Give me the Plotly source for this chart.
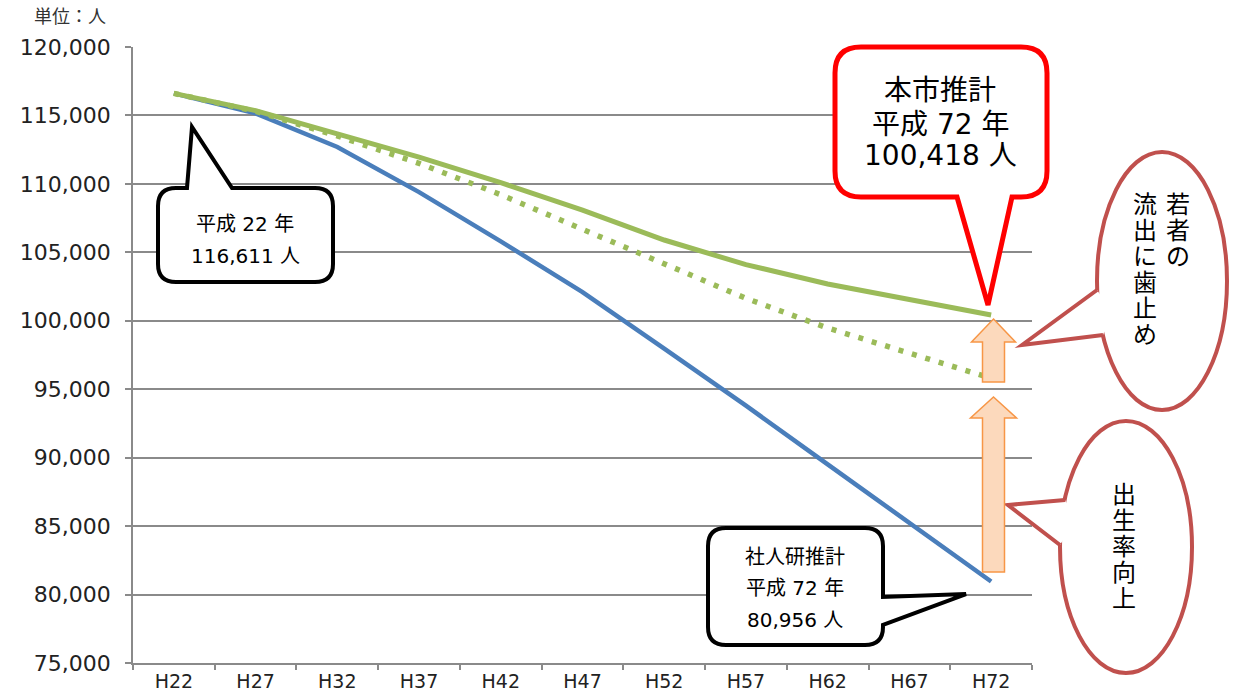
import plotly.graph_objects as go

# ---------------- data ----------------
categories = ["H22", "H27", "H32", "H37", "H42", "H47", "H52", "H57", "H62", "H67", "H72"]
ipss_projection = [116611, 115150, 112700, 109400, 105800, 102100, 97960, 93800, 89510, 85230, 80956]
city_projection = [116611, 115350, 113650, 111960, 110090, 108090, 105900, 104100, 102690, 101520, 100418]
birthrate_only = [116611, 115300, 113500, 111500, 109210, 106700, 104130, 101640, 99470, 97590, 95800]
y_ticks = [75000, 80000, 85000, 90000, 95000, 100000, 105000, 110000, 115000, 120000]

# ---------------- layout helpers (pixel -> paper) ----------------
W_FIG, H_FIG = 1237, 695
L0, T0, R0, B0 = 133, 47, 1032, 663


def P(x, y):
    return f"{(x - L0) / (R0 - L0):.5f},{(B0 - y) / (B0 - T0):.5f}"


def px(x):
    return (x - L0) / (R0 - L0)


def py(y):
    return (B0 - y) / (B0 - T0)


def callout_path(x0, y0, x1, y1, r, side, tail):
    t = "".join(f" L{P(*p)}" for p in tail)
    s = f"M{P(x0 + r, y0)}"
    if side == "top":
        s += t
    s += f" L{P(x1 - r, y0)} Q{P(x1, y0)} {P(x1, y0 + r)}"
    if side == "right":
        s += t
    s += f" L{P(x1, y1 - r)} Q{P(x1, y1)} {P(x1 - r, y1)}"
    if side == "bottom":
        s += t
    s += f" L{P(x0 + r, y1)} Q{P(x0, y1)} {P(x0, y1 - r)}"
    if side == "left":
        s += t
    s += f" L{P(x0, y0 + r)} Q{P(x0, y0)} {P(x0 + r, y0)} Z"
    return s


def ellipse_path(cx, cy, rx, ry):
    k = 0.5523
    return (f"M{P(cx, cy - ry)} "
            f"C{P(cx + k * rx, cy - ry)} {P(cx + rx, cy - k * ry)} {P(cx + rx, cy)} "
            f"C{P(cx + rx, cy + k * ry)} {P(cx + k * rx, cy + ry)} {P(cx, cy + ry)} "
            f"C{P(cx - k * rx, cy + ry)} {P(cx - rx, cy + k * ry)} {P(cx - rx, cy)} "
            f"C{P(cx - rx, cy - k * ry)} {P(cx - k * rx, cy - ry)} {P(cx, cy - ry)} Z")


def poly_path(pts, close=True):
    s = "M" + " L".join(P(*p) for p in pts)
    return s + (" Z" if close else "")


def arrow_path(cx, tip, head_base, bottom, head_half, shaft_half):
    pts = [(cx, tip), (cx + head_half, head_base), (cx + shaft_half, head_base),
           (cx + shaft_half, bottom), (cx - shaft_half, bottom), (cx - shaft_half, head_base),
           (cx - head_half, head_base)]
    return poly_path(pts)


# ---------------- figure ----------------
fig = go.Figure()
fig.add_trace(go.Scatter(x=categories, y=ipss_projection, mode="lines",
                         line=dict(color="#4a7ebb", width=4.5), name="社人研推計"))
fig.add_trace(go.Scatter(x=categories, y=birthrate_only, mode="lines",
                         line=dict(color="#9bbb59", width=5.5, dash="5px,9px"), name="出生率向上"))
fig.add_trace(go.Scatter(x=categories, y=city_projection, mode="lines",
                         line=dict(color="#9bbb59", width=5), name="本市推計"))

shapes = []
BLACK = dict(color="black", width=4)
RED = dict(color="#ff0000", width=5)
ROSE = dict(color="#c0504d", width=4)

# callout: 平成22年
shapes.append(dict(type="path", xref="paper", yref="paper", layer="above",
                   path=callout_path(158, 188, 333, 282, 18, "top",
                                     [(187, 188), (192, 127), (232, 188)]),
                   fillcolor="white", line=BLACK))
# callout: 社人研推計
shapes.append(dict(type="path", xref="paper", yref="paper", layer="above",
                   path=callout_path(708, 528, 883, 645, 18, "right",
                                     [(883, 597), (966, 594), (883, 625)]),
                   fillcolor="white", line=BLACK))
# callout: 本市推計
shapes.append(dict(type="path", xref="paper", yref="paper", layer="above",
                   path=callout_path(835, 47, 1047, 197, 26, "bottom",
                                     [(1012, 197), (988, 305), (957, 197)]),
                   fillcolor="white", line=RED))

# oval: 若者の流出に歯止め
shapes.append(dict(type="path", xref="paper", yref="paper", layer="above",
                   path=ellipse_path(1162, 281, 65, 129), fillcolor="white", line=ROSE))
shapes.append(dict(type="path", xref="paper", yref="paper", layer="above",
                   path=poly_path([(1022, 345), (1097, 290), (1112, 312), (1103, 335)]),
                   fillcolor="white", line=dict(width=0)))
shapes.append(dict(type="path", xref="paper", yref="paper", layer="above",
                   path=poly_path([(1097, 290), (1022, 345), (1103, 335)], close=False),
                   line=ROSE))
# oval: 出生率向上
shapes.append(dict(type="path", xref="paper", yref="paper", layer="above",
                   path=ellipse_path(1126, 547, 66, 126), fillcolor="white", line=ROSE))
shapes.append(dict(type="path", xref="paper", yref="paper", layer="above",
                   path=poly_path([(1008, 505), (1065, 500), (1074, 522), (1060, 545)]),
                   fillcolor="white", line=dict(width=0)))
shapes.append(dict(type="path", xref="paper", yref="paper", layer="above",
                   path=poly_path([(1065, 500), (1008, 505), (1060, 545)], close=False),
                   line=ROSE))

# orange arrows
ARROW_LINE = dict(color="#f79646", width=1.5)
shapes.append(dict(type="path", xref="paper", yref="paper", layer="above",
                   path=arrow_path(993.5, 319, 342, 382, 22, 11),
                   fillcolor="#fcd9bc", line=ARROW_LINE))
shapes.append(dict(type="path", xref="paper", yref="paper", layer="above",
                   path=arrow_path(993.5, 397, 418, 572, 23, 11),
                   fillcolor="#fcd9bc", line=ARROW_LINE))

FONT = "DejaVu Sans, Noto Sans CJK JP"
annotations = []


def ann(text, x, y, size, color="black", xanchor="center"):
    annotations.append(dict(text=text, x=px(x), y=py(y), xref="paper", yref="paper",
                            xanchor=xanchor, yanchor="middle", showarrow=False,
                            font=dict(family=FONT, size=size, color=color)))


ann("単位：人", 108, 16, 18, "#333333", xanchor="right")

ann("平成 22 年", 245, 224, 20)
ann("116,611 人", 245, 256, 20)

ann("社人研推計", 795, 557, 20)
ann("平成 72 年", 795, 588, 20)
ann("80,956 人", 795, 620, 20)

ann("本市推計", 940, 91, 28)
ann("平成 72 年", 940, 124, 28)
ann("100,418 人", 940, 155, 28)


def vertical(text, x, y_first, pitch, size):
    for i, ch in enumerate(text):
        ann(ch, x, y_first + i * pitch, size)


vertical("若者の", 1178, 205, 26, 24)
vertical("流出に歯止め", 1145, 205, 26, 24)
vertical("出生率向上", 1124, 495, 26, 24)

GRID = "#8a8a8a"
fig.update_layout(
    width=W_FIG, height=H_FIG,
    margin=dict(l=L0, r=W_FIG - R0, t=T0, b=H_FIG - B0, pad=0, autoexpand=False),
    paper_bgcolor="white", plot_bgcolor="white",
    showlegend=False,
    shapes=shapes, annotations=annotations,
    font=dict(family=FONT, color="#222222"),
    xaxis=dict(type="category", categoryorder="array", categoryarray=categories,
               range=[-0.5, len(categories) - 0.5], showgrid=False, automargin=False,
               showline=True, linecolor=GRID, linewidth=1.5,
               ticks="outside", tickson="boundaries", ticklen=5, tickcolor=GRID, tickwidth=1.5,
               tickfont=dict(family=FONT, size=19, color="#222222"), fixedrange=True),
    yaxis=dict(range=[75000, 120000], tickvals=y_ticks, tickformat=",d", automargin=False,
               showgrid=True, gridcolor=GRID, gridwidth=1.5,
               showline=True, linecolor=GRID, linewidth=1.5,
               ticks="outside", ticklen=6, tickcolor=GRID, tickwidth=1.5,
               ticklabelstandoff=10,
               tickfont=dict(family=FONT, size=22, color="#222222"),
               zeroline=False, fixedrange=True),
)

fig.write_html("out.html", config={"displayModeBar": False})

# remove the default page margin so the figure sits at the window origin
with open("out.html", "r", encoding="utf-8") as f:
    html = f.read()
html = html.replace("<body>", '<body style="margin:0;padding:0;">', 1)
with open("out.html", "w", encoding="utf-8") as f:
    f.write(html)
